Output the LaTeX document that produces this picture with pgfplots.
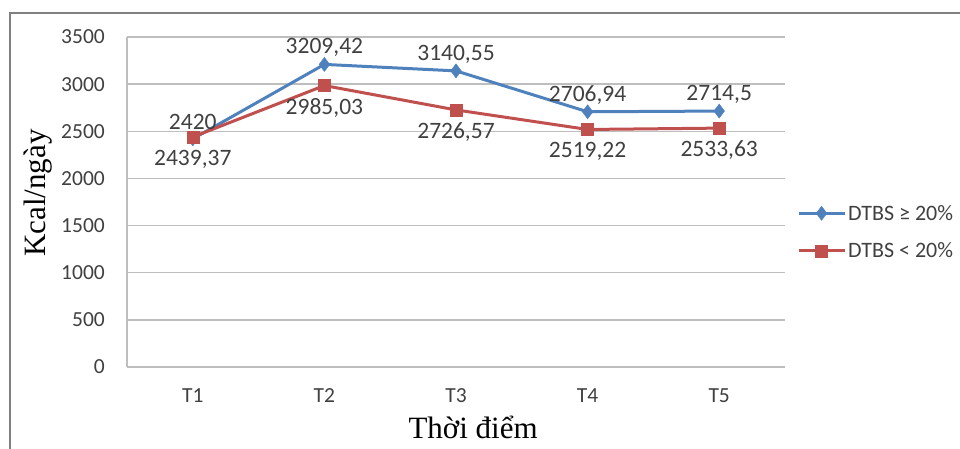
\documentclass[border=0pt]{standalone}
\usepackage{pgfplots}
\pgfplotsset{compat=1.18}
\usepackage{fontspec}
\setmainfont{Liberation Serif}
\newfontfamily\calibri{Carlito}

\definecolor{serA}{RGB}{79,129,189}
\definecolor{serB}{RGB}{192,80,77}
\definecolor{txt}{RGB}{64,64,64}
\definecolor{gridc}{RGB}{190,190,190}
\definecolor{framec}{RGB}{128,128,128}

% energy intake (kcal/day) at five time points
\pgfplotstableread{
x y lab
1 2420    2420
2 3209.42 3209,42
3 3140.55 3140,55
4 2706.94 2706,94
5 2714.5  2714,5
}\highgroup
\pgfplotstableread{
x y lab
1 2439.37 2439,37
2 2985.03 2985,03
3 2726.57 2726,57
4 2519.22 2519,22
5 2533.63 2533,63
}\lowgroup

\begin{document}
\begin{tikzpicture}[x=1pt,y=1pt]
\path[use as bounding box] (0,0) rectangle (960,448);
\draw[framec, line width=2pt] (10,-5) -- (10,435) -- (965,435);
\begin{axis}[
  at={(127pt,81pt)}, anchor=south west,
  scale only axis, width=658pt, height=330pt,
  xmin=0.5, xmax=5.5, ymin=0, ymax=3500,
  xtick={1,2,3,4,5}, xticklabels={T1,T2,T3,T4,T5},
  ytick={0,500,1000,1500,2000,2500,3000,3500},
  yticklabels={0,500,1000,1500,2000,2500,3000,3500},
  ymajorgrids, grid style={gridc, line width=1.3pt},
  axis x line*=bottom, axis y line*=left,
  axis line style={gridc, line width=1.3pt, -},
  major tick length=0pt,
  tick label style={font=\calibri\fontsize{21.5}{21.5}\selectfont, text=txt, inner sep=0pt},
  yticklabel style={anchor=east, xshift=-22pt},
  xticklabel style={anchor=center, yshift=-29pt},
  xlabel={Thời điểm}, ylabel={Kcal/ngày},
  label style={font=\fontsize{31}{31}\selectfont, text=black, inner sep=0pt},
  xlabel style={at={(axis description cs:0.526,-0.182)}, anchor=center},
  ylabel style={at={(axis description cs:-0.135,0.527)}, anchor=center},
  clip=false,
  point meta=explicit symbolic,
  nodes near coords={\pgfplotspointmeta},
  nodes near coords style={font=\calibri\fontsize{23.5}{23.5}\selectfont, text=txt, anchor=center, inner sep=0pt},
  legend style={at={(1.018,0.409)}, anchor=west, draw=none, fill=none, inner sep=0pt,
    font=\calibri\fontsize{22}{22}\selectfont, text=txt, row sep=17pt,
    nodes={inner sep=2pt}},
  legend cell align=left,
  legend image code/.code={%
    \draw[mark repeat=2, mark phase=2, #1] plot coordinates {(0pt,0pt) (23pt,0pt) (46pt,0pt)};},
]
\addplot[serA, line width=3pt, mark=diamond*, mark size=7pt,
  mark options={line width=0.5pt},
  every node near coord/.append style={yshift=17pt}]
  table[x=x, y=y, meta=lab] {\highgroup};
\addlegendentry{DTBS ≥ 20\%}
\addplot[serB, line width=3pt, mark=square*, mark size=6pt,
  mark options={line width=0.5pt},
  every node near coord/.append style={yshift=-22pt}]
  table[x=x, y=y, meta=lab] {\lowgroup};
\addlegendentry{DTBS < 20\%}
\end{axis}
\end{tikzpicture}
\end{document}
